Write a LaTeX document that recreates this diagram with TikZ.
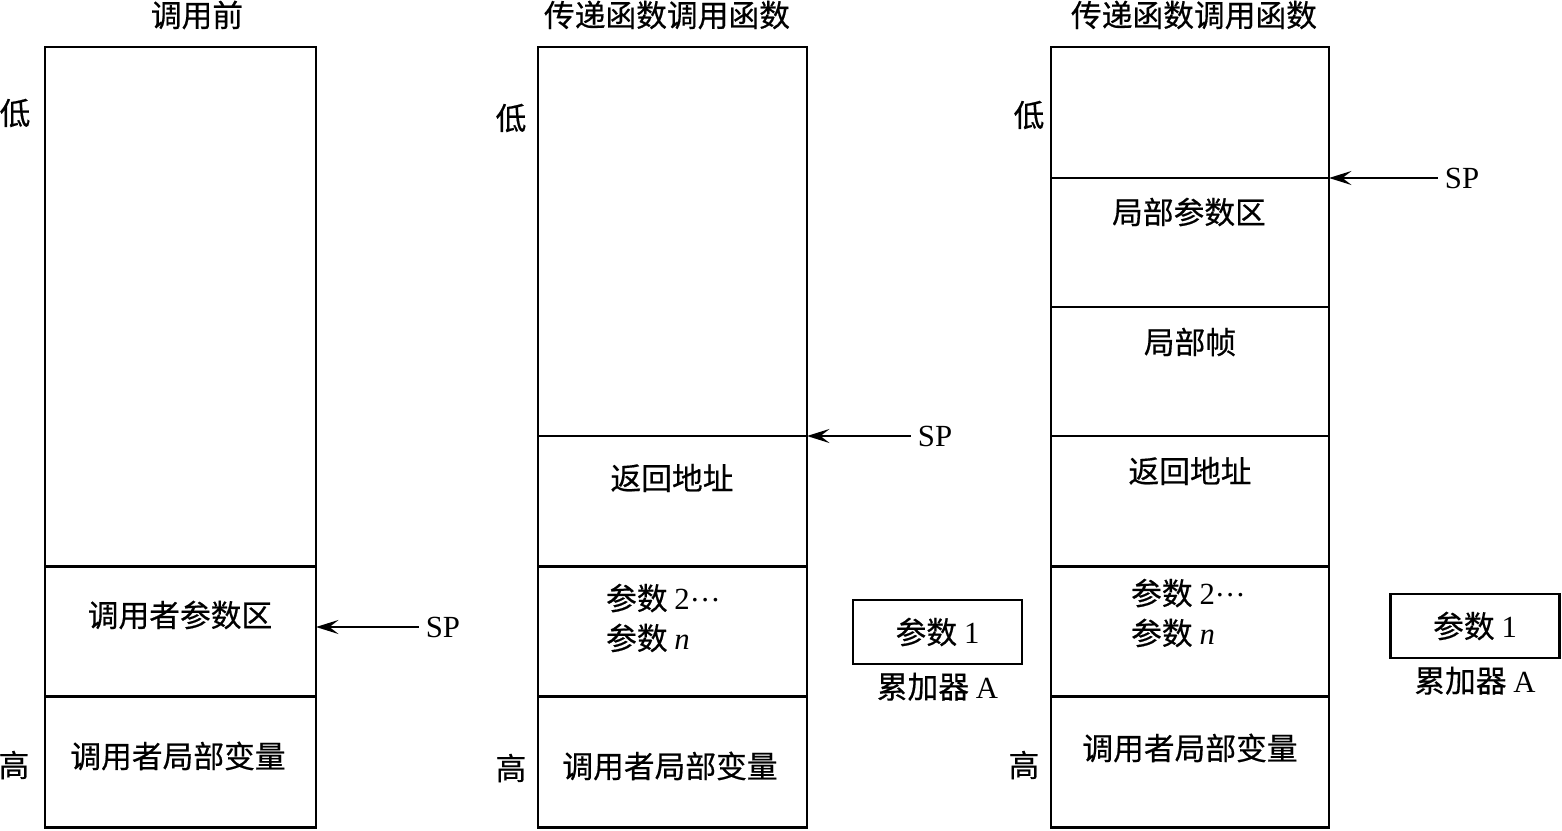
\documentclass[tikz,border=0pt]{standalone}
\usepackage{fontspec}
\setmainfont{Liberation Serif}
\newfontfamily\cjk[FakeBold=0.5]{Noto Sans CJK SC}
\usepackage{tikz}
\usetikzlibrary{arrows.meta,positioning}
\tikzset{
  cell/.style={draw, line width=1.6pt, outer sep=0pt, inner sep=0pt},
  colA/.style={cell, minimum width=5.42cm},
  colB/.style={cell, minimum width=5.38cm},
  colC/.style={cell, minimum width=5.56cm},
  txt/.style={font=\cjk\fontsize{17.5}{22.7}\selectfont, inner sep=1pt},
  acc/.style={draw, line width=1.6pt, minimum width=3.38cm, minimum height=1.28cm,
              font=\cjk\fontsize{17.5}{21}\selectfont},
  sp/.style={font=\fontsize{17.5}{21}\selectfont, inner sep=4pt},
  ar/.style={-{Stealth[length=4.5mm, width=2.8mm, inset=1.8mm]}, line width=1.4pt},
}
\newcommand{\parlist}{参数 {\rmfamily 2\raisebox{0.28em}{…}}\\参数 {\rmfamily\itshape n}}

\begin{document}
\begin{tikzpicture}[x=0.02cm, y=-0.02cm]
  \useasboundingbox (0,0) rectangle (1562,831);

  % before the call
  \node[txt] (h1) at (197,15) {调用前};
  \node[colA, minimum height=10.4cm, anchor=north] (c1a) at (180.5,47) {};
  \node[colA, minimum height=2.6cm, below=0pt of c1a] (c1b) {};
  \node[colA, minimum height=2.62cm, below=0pt of c1b] (c1c) {};
  \node[txt] (t1b) at (180,615) {调用者参数区};
  \node[txt] (t1c) at (178,756) {调用者局部变量};
  \node[txt] (lo1) at (15,113) {低};
  \node[txt] (hi1) at (14,765) {高};
  \node[sp] (sp1) at (443,627) {SP};
  \draw[ar] (sp1) -- (sp1 -| c1b.east);

  % passing parameters
  \node[txt] (h2) at (667,15) {传递函数调用函数};
  \node[colB, minimum height=7.78cm, anchor=north] (c2a) at (672.5,47) {};
  \node[colB, minimum height=2.62cm, below=0pt of c2a] (c2b) {};
  \node[colB, minimum height=2.6cm, below=0pt of c2b] (c2c) {};
  \node[colB, minimum height=2.62cm, below=0pt of c2c] (c2d) {};
  \node[txt] (t2b) at (672,478) {返回地址};
  \node[txt, align=left, anchor=west] (t2c) at (604,618) {\parlist};
  \node[txt] (t2d) at (670,766) {调用者局部变量};
  \node[txt] (lo2) at (511,118) {低};
  \node[txt] (hi2) at (511,768) {高};
  \node[sp] (sp2) at (935,436) {SP};
  \draw[ar] (sp2) -- (sp2 -| c2b.east);
  \node[acc] (acc2) at (937.5,632) {参数 {\rmfamily 1}};
  \node[txt, below=3pt of acc2] (al2) {累加器 {\rmfamily A}};

  % local frame
  \node[txt] (h3) at (1194,15) {传递函数调用函数};
  \node[colC, minimum height=2.62cm, anchor=north] (c3a) at (1190,47) {};
  \node[colC, minimum height=2.58cm, below=0pt of c3a] (c3b) {};
  \node[colC, minimum height=2.58cm, below=0pt of c3b] (c3c) {};
  \node[colC, minimum height=2.62cm, below=0pt of c3c] (c3d) {};
  \node[colC, minimum height=2.6cm, below=0pt of c3d] (c3e) {};
  \node[colC, minimum height=2.62cm, below=0pt of c3e] (c3f) {};
  \node[txt] (t3b) at (1189,212) {局部参数区};
  \node[txt] (t3c) at (1190,342) {局部帧};
  \node[txt] (t3d) at (1190,471) {返回地址};
  \node[txt, align=left, anchor=west] (t3e) at (1129,613) {\parlist};
  \node[txt] (t3f) at (1190,748) {调用者局部变量};
  \node[txt] (lo3) at (1029,115) {低};
  \node[txt] (hi3) at (1024,765) {高};
  \node[sp] (sp3) at (1462,178) {SP};
  \draw[ar] (sp3) -- (sp3 -| c3b.east);
  \node[acc] (acc3) at (1475,626) {参数 {\rmfamily 1}};
  \node[txt, below=3pt of acc3] (al3) {累加器 {\rmfamily A}};
\end{tikzpicture}
\end{document}
